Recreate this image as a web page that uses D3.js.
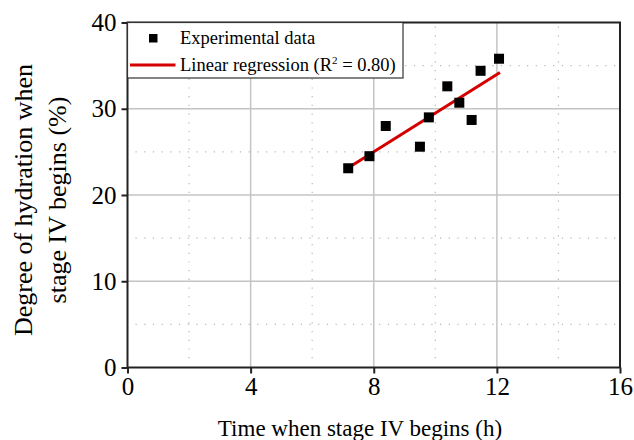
<!DOCTYPE html>
<html>
<head>
<meta charset="utf-8">
<script src="https://cdn.jsdelivr.net/npm/d3@7"></script>
<style>
  body { margin: 0; background: #fff; }
  svg text { font-family: "Liberation Serif", "Times New Roman", serif; fill: #000; }
</style>
</head>
<body>
<div id="chart"></div>
<script>
// measured points: time when stage IV begins (h) vs degree of hydration (%)
const timeH = [7.17, 7.86, 8.39, 9.50, 9.79, 10.39, 10.78, 11.18, 11.47, 12.07];
const hydration = [23.1, 24.5, 28.0, 25.6, 29.0, 32.6, 30.7, 28.7, 34.4, 35.8];

// regression line end points
const fitX = [7.15, 12.1];
const fitY = [23.1, 34.2];

const xMajor = [0, 4, 8, 12, 16];
const xMinor = [2, 6, 10, 14];
const yMajor = [0, 10, 20, 30, 40];
const yMinor = [5, 15, 25, 35];

const legendLabels = ["Experimental data", "Linear regression (R", "2", " = 0.80)"];

const W = 634, H = 440;
const margin = { top: 22.5, right: 14, bottom: 72.5, left: 127.5 };
const width = W - margin.left - margin.right,
      height = H - margin.top - margin.bottom;

const svg = d3.select("#chart").append("svg")
    .attr("width", W)
    .attr("height", H);

const g = svg.append("g")
    .attr("transform", `translate(${margin.left},${margin.top})`);

const x = d3.scaleLinear().domain([0, 16]).range([0, width]);
const y = d3.scaleLinear().domain([0, 40]).range([height, 0]);

// grid
g.selectAll(".vmaj").data(xMajor.slice(1, -1)).join("line")
    .attr("x1", d => x(d)).attr("x2", d => x(d))
    .attr("y1", 0).attr("y2", height)
    .attr("stroke", "#c4c4c4").attr("stroke-width", 1.5);
g.selectAll(".hmaj").data(yMajor.slice(1, -1)).join("line")
    .attr("y1", d => y(d)).attr("y2", d => y(d))
    .attr("x1", 0).attr("x2", width)
    .attr("stroke", "#c4c4c4").attr("stroke-width", 1.5);
g.selectAll(".vmin").data(xMinor).join("line")
    .attr("x1", d => x(d)).attr("x2", d => x(d))
    .attr("y1", 4).attr("y2", height - 4)
    .attr("stroke", "#b8b8b8").attr("stroke-width", 1.2)
    .attr("stroke-dasharray", "1.2,7.5");
g.selectAll(".hmin").data(yMinor).join("line")
    .attr("y1", d => y(d)).attr("y2", d => y(d))
    .attr("x1", 8).attr("x2", width - 4)
    .attr("stroke", "#b8b8b8").attr("stroke-width", 1.2)
    .attr("stroke-dasharray", "1.2,7.5");

// frame
g.append("rect")
    .attr("width", width).attr("height", height)
    .attr("fill", "none").attr("stroke", "#222").attr("stroke-width", 2);

// axes
const xAxis = g.append("g")
    .attr("transform", `translate(0,${height})`)
    .call(d3.axisBottom(x).tickValues(xMajor).tickSize(6).tickPadding(4).tickFormat(d3.format("d")));
const yAxis = g.append("g")
    .call(d3.axisLeft(y).tickValues(yMajor).tickSize(6).tickPadding(5).tickFormat(d3.format("d")));
[xAxis, yAxis].forEach(a => {
    a.attr("font-family", "Liberation Serif").attr("font-size", 25);
    a.select(".domain").remove();
    a.selectAll(".tick line").attr("stroke", "#222").attr("stroke-width", 2);
    a.selectAll(".tick text")
        .style("font-family", "'Liberation Serif', 'Times New Roman', serif")
        .style("font-size", "25px");
});

// regression line
g.append("line")
    .attr("x1", x(fitX[0])).attr("y1", y(fitY[0]))
    .attr("x2", x(fitX[1])).attr("y2", y(fitY[1]))
    .attr("stroke", "#d40000").attr("stroke-width", 3);

// data points
const sq = 10;
g.selectAll(".pt").data(timeH).join("rect")
    .attr("x", d => x(d) - sq / 2)
    .attr("y", (d, i) => y(hydration[i]) - sq / 2)
    .attr("width", sq).attr("height", sq)
    .attr("fill", "#000");

// legend
const lg = g.append("g");
lg.append("rect")
    .attr("x", 0).attr("y", 0).attr("width", 275.5).attr("height", 55.5)
    .attr("fill", "#fff").attr("stroke", "#333").attr("stroke-width", 1.2);
lg.append("rect")
    .attr("x", 21.5).attr("y", 11.5).attr("width", 8.5).attr("height", 8.5)
    .attr("fill", "#000");
lg.append("text")
    .attr("x", 52.5).attr("y", 21)
    .style("font-size", "18.5px")
    .text(legendLabels[0]);
lg.append("line")
    .attr("x1", 2.5).attr("x2", 48).attr("y1", 42.5).attr("y2", 42.5)
    .attr("stroke", "#d40000").attr("stroke-width", 3);
const t2 = lg.append("text")
    .attr("x", 52.5).attr("y", 48.5)
    .style("font-size", "18.5px");
t2.append("tspan").text(legendLabels[1]);
t2.append("tspan").attr("dy", -7).style("font-size", "11px").text(legendLabels[2]);
t2.append("tspan").attr("dy", 7).text(legendLabels[3]);

// axis titles
svg.append("text")
    .attr("x", 360).attr("y", 436)
    .attr("text-anchor", "middle")
    .style("font-size", "23px")
    .text("Time when stage IV begins (h)");

const yt = svg.append("text")
    .attr("transform", "translate(32,200) rotate(-90)")
    .attr("text-anchor", "middle")
    .style("font-size", "26px");
yt.append("tspan").attr("x", 0).attr("y", 0).text("Degree of hydration when");
yt.append("tspan").attr("x", 0).attr("y", 34).text("stage IV begins (%)");
</script>
</body>
</html>
